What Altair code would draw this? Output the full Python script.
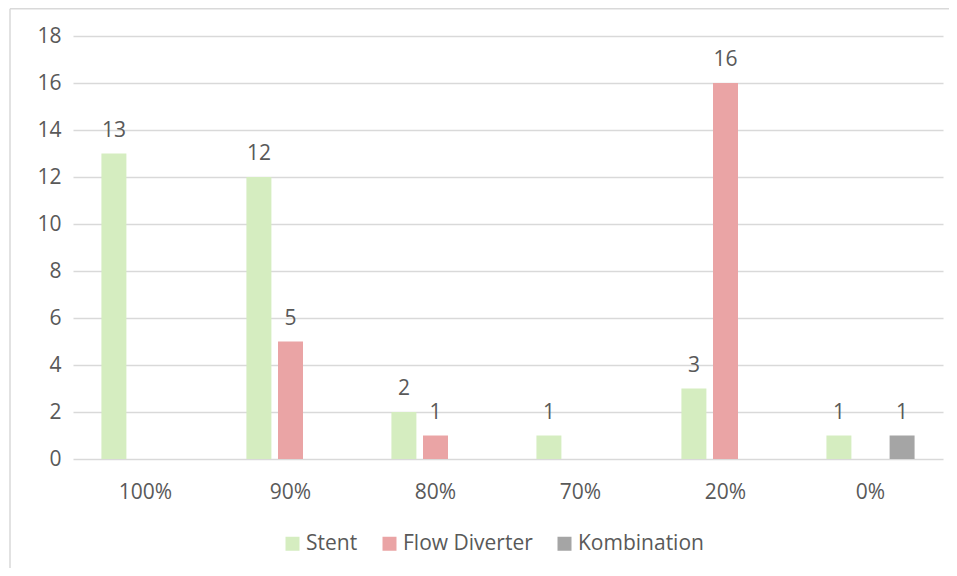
import altair as alt
import pandas as pd

categories = ["100%", "90%", "80%", "70%", "20%", "0%"]
series = ["Stent", "Flow Diverter", "Kombination"]
stent = [13, 12, 2, 1, 3, 1]
flow_diverter = [0, 5, 1, 0, 16, 0]
kombination = [0, 0, 0, 0, 0, 1]
colors = ["#D5EDC0", "#EAA4A5", "#A5A5A5"]
y_ticks = [0, 2, 4, 6, 8, 10, 12, 14, 16, 18]

rows = []
for s, vals in zip(series, [stent, flow_diverter, kombination]):
    for c, v in zip(categories, vals):
        if v > 0:
            rows.append({"cat": c, "series": s, "value": v})
df = pd.DataFrame(rows)

FONT = "Open Sans"
TXT = "#595959"
GRID = "#D9D9D9"

x = alt.X(
    "cat:N",
    sort=categories,
    scale=alt.Scale(domain=categories, paddingInner=0.392, paddingOuter=0.196),
    axis=alt.Axis(
        title=None, labelAngle=0, ticks=False, tickSize=0, domain=False,
        labelPadding=39, labelBaseline="alphabetic", grid=False,
    ),
)
xo = alt.XOffset("series:N", scale=alt.Scale(domain=series, paddingInner=0.209, paddingOuter=0))
y = alt.Y(
    "value:Q",
    scale=alt.Scale(domain=[0, 18], nice=False),
    axis=alt.Axis(
        values=y_ticks, title=None, domain=False, ticks=False, tickSize=0,
        gridColor=GRID, gridWidth=1.5, labelPadding=12,
    ),
)

base = alt.Chart(df)

bars = base.mark_bar().encode(
    x=x,
    xOffset=xo,
    y=y,
    color=alt.Color(
        "series:N",
        scale=alt.Scale(domain=series, range=colors),
        legend=alt.Legend(
            title=None, orient="none", direction="horizontal",
            legendX=209, legendY=497,
            symbolType="square", symbolSize=196, symbolStrokeWidth=0,
            labelFont=FONT, labelFontSize=21, labelColor=TXT,
            labelOffset=3, columnPadding=21,
        ),
    ),
)

labels = base.mark_text(
    baseline="alphabetic", dy=-17, font=FONT, fontSize=21, color=TXT
).encode(x=x, xOffset=xo, y=y, text=alt.Text("value:Q"))

frame = alt.Chart(alt.Data(values=[{"a": 1}]))
border_top = frame.mark_rule(stroke=GRID, strokeWidth=1.5).encode(
    x=alt.value(-63), x2=alt.value(900), y=alt.value(-27.2)
)
border_left = frame.mark_rule(stroke=GRID, strokeWidth=1.5).encode(
    x=alt.value(-63), y=alt.value(-27.2), y2=alt.value(600)
)

chart = (
    alt.layer(border_top, border_left, bars, labels)
    .properties(
        width=870, height=423,
        autosize=alt.AutoSizeParams(type="none"),
        padding={"left": 65, "top": 28, "right": 6, "bottom": 109},
        background="white",
    )
    .configure_axis(labelFont=FONT, labelFontSize=21, labelColor=TXT)
    .configure_view(stroke=None)
)

chart.save("out.html", embed_options={"renderer": "svg", "actions": False})
